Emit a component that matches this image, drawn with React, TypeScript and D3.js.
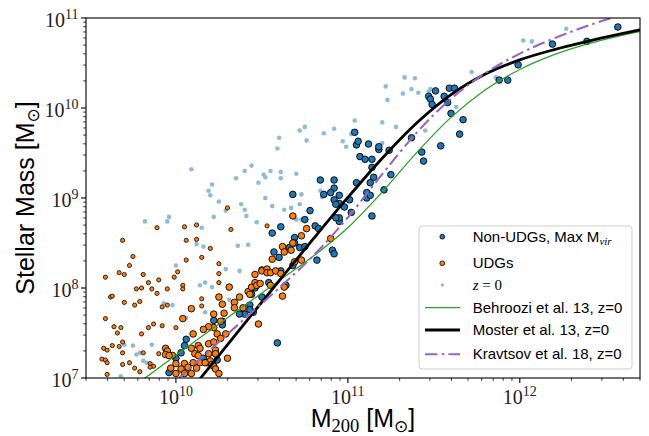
import React from 'react';
import * as d3 from 'd3';

// figure size and axes box (pixels)
const WIDTH = 649;
const HEIGHT = 436;
const PLOT = { left: 86, right: 640, top: 18, bottom: 378 };

// abundance matching relations: log10 M200 grid and log10 M* for each model
const haloGrid = [9.6, 9.8, 10.0, 10.2, 10.4, 10.6, 10.8, 11.0, 11.2, 11.4, 11.6, 11.8, 12.0, 12.2, 12.4, 12.6, 12.7];
const behroozi13 = [6.689, 6.971, 7.252, 7.531, 7.808, 8.081, 8.355, 8.67, 9.067, 9.504, 9.896, 10.203, 10.428, 10.592, 10.714, 10.81, 10.85];
const moster13 = [5.708, 6.183, 6.658, 7.133, 7.607, 8.08, 8.548, 9.006, 9.442, 9.833, 10.149, 10.378, 10.535, 10.649, 10.743, 10.828, 10.869];
const kravtsov18 = [6.275, 6.622, 6.969, 7.315, 7.659, 8.001, 8.36, 8.784, 9.265, 9.726, 10.103, 10.388, 10.604, 10.774, 10.917, 11.042, 11.1];

// [log10 M200, log10 M*]
const nonUdgs: [number, number][] = [
  [10.22, 7.64], [10.27, 7.63], [10.27, 7.59], [10.06, 7.43], [10.05, 7.36], [10.03, 7.28], [10.16, 7.22], [10.18, 7.17],
  [10.24, 7.2], [10.0, 7.22], [9.96, 7.06], [10.45, 7.73], [10.43, 7.81], [10.43, 7.76], [10.4, 7.71], [10.37, 7.71],
  [10.5, 7.9], [10.5, 8.2], [10.61, 8.68], [10.56, 8.61], [10.81, 8.69], [10.83, 8.66], [10.95, 8.74], [10.69, 8.56],
  [10.72, 8.45], [10.66, 8.45], [10.69, 8.5], [10.57, 8.4], [10.6, 8.34], [10.75, 8.46], [10.68, 8.25], [10.82, 8.31],
  [10.91, 8.42], [10.92, 8.38], [10.61, 8.19], [10.54, 8.06], [10.46, 8.0], [10.44, 7.93], [10.64, 8.03], [10.59, 7.39],
  [11.47, 10.13], [11.48, 10.1], [11.49, 10.04], [11.51, 10.19], [11.56, 10.13], [11.58, 10.06], [11.59, 10.22], [11.62, 10.22],
  [11.6, 9.94], [11.67, 9.87], [11.65, 9.71], [11.54, 9.58], [11.43, 9.51], [11.44, 9.41], [12.57, 10.9], [12.39, 10.74],
  [12.19, 10.71], [11.99, 10.48], [11.88, 10.31], [11.93, 10.31], [11.37, 9.67], [11.04, 9.73], [11.05, 9.59], [11.06, 9.63],
  [11.12, 9.6], [11.18, 9.54], [11.18, 9.57], [11.24, 9.53], [11.07, 9.46], [11.1, 9.43], [11.14, 9.43], [11.14, 9.34],
  [11.15, 9.23], [11.13, 9.17], [11.25, 9.26], [10.84, 9.2], [10.92, 9.2], [10.92, 9.11], [11.05, 9.17], [10.68, 9.04],
  [10.86, 9.04], [10.9, 9.06], [10.95, 9.03], [10.92, 8.98], [10.95, 8.94], [10.93, 8.93], [11.01, 8.98], [11.11, 9.06],
  [11.11, 9.0], [11.13, 9.03], [11.21, 9.09], [10.98, 8.9], [10.78, 8.86], [11.02, 8.84], [11.14, 8.8], [10.95, 8.78],
  [10.93, 8.78], [10.75, 8.76],
];

const udgsBig: [number, number][] = [
  [10.09, 7.77], [10.04, 7.66], [10.1, 7.49], [10.25, 7.9], [10.31, 8.01], [10.37, 7.9], [10.27, 7.82], [10.34, 7.84],
  [10.34, 7.78], [10.39, 7.78], [10.42, 7.96], [10.43, 7.93], [10.44, 8.01], [10.46, 8.06], [10.47, 8.03], [10.49, 8.05],
  [10.5, 8.19], [10.46, 8.15], [10.22, 7.71], [10.28, 7.72], [10.26, 7.63], [10.22, 7.56], [10.19, 7.57], [10.16, 7.54],
  [10.29, 7.49], [10.24, 7.49], [10.26, 7.44], [10.13, 7.36], [10.19, 7.38], [10.22, 7.4], [10.23, 7.31], [10.19, 7.27],
  [10.23, 7.27], [10.09, 7.33], [10.11, 7.27], [10.14, 7.33], [10.13, 7.25], [9.94, 7.33], [9.95, 7.3], [9.94, 7.26],
  [9.98, 7.25], [9.96, 7.25], [10.0, 7.16], [10.05, 7.16], [10.1, 7.17], [10.14, 7.17], [10.2, 7.19], [10.21, 7.15],
  [10.17, 7.17], [9.97, 7.11], [10.03, 7.1], [10.07, 7.12], [10.12, 7.11], [10.0, 7.05], [10.05, 7.05], [10.09, 7.05],
  [10.22, 7.13], [10.23, 7.1], [10.25, 7.05], [10.3, 7.22], [10.48, 7.6], [10.76, 8.66], [10.73, 8.58], [10.62, 8.46],
  [10.63, 8.4], [10.67, 8.42], [10.68, 8.5], [10.56, 8.32], [10.69, 8.29], [10.73, 8.31], [10.53, 8.21], [10.53, 8.17],
  [10.55, 8.17], [10.58, 8.19], [10.61, 8.16], [10.55, 8.03], [10.63, 8.01], [10.62, 7.91], [10.9, 8.55], [10.68, 8.8],
];

const udgsSmall: [number, number][] = [
  [9.69, 8.53], [9.75, 8.35], [9.73, 8.25], [9.67, 8.17], [9.7, 8.15], [9.59, 8.12], [9.81, 8.15], [9.84, 8.06],
  [9.9, 8.09], [9.77, 7.99], [9.8, 8.0], [9.86, 7.99], [9.89, 7.94], [9.95, 7.99], [9.62, 7.9], [9.63, 7.91],
  [9.7, 7.84], [9.79, 7.85], [9.76, 7.81], [9.92, 7.79], [9.95, 7.81], [9.59, 7.66], [9.64, 7.57], [9.68, 7.56],
  [9.66, 7.5], [9.84, 7.56], [9.87, 7.6], [9.92, 7.58], [9.8, 7.49], [9.69, 7.4], [9.63, 7.36], [9.67, 7.35],
  [9.58, 7.33], [9.6, 7.31], [9.69, 7.28], [9.57, 7.21], [9.59, 7.2], [9.6, 7.17], [9.73, 7.17], [9.69, 7.15],
  [9.76, 7.11], [9.79, 7.07], [9.6, 7.04], [9.9, 7.27], [9.81, 7.28], [9.85, 7.16], [9.87, 7.13], [9.85, 7.12],
  [9.89, 8.67], [10.06, 8.53], [10.12, 8.54], [10.2, 8.44], [10.15, 8.34], [10.06, 8.31], [10.01, 8.18], [9.99, 8.12],
  [10.04, 8.03], [10.04, 7.99], [10.25, 8.27], [10.25, 8.16], [10.25, 8.06], [10.32, 8.65], [10.15, 7.88], [10.15, 7.8],
  [10.0, 7.56], [10.3, 8.89], [10.05, 8.68], [10.12, 8.7], [10.53, 8.69],
];

const zZero: [number, number][] = [
  [10.15, 8.67], [10.12, 8.49], [10.16, 8.46], [10.36, 8.47], [10.42, 8.48], [10.0, 8.25], [10.29, 8.21], [10.37, 8.19],
  [10.17, 8.06], [10.21, 8.01], [10.14, 8.03], [10.31, 7.87], [9.93, 7.83], [9.98, 7.81], [10.17, 7.73], [10.06, 7.67],
  [9.75, 7.36], [9.7, 7.37], [9.86, 7.37], [9.79, 7.28], [9.77, 7.26], [9.81, 7.19], [9.83, 7.17], [9.68, 7.02],
  [10.6, 9.67], [10.59, 9.55], [10.09, 9.32], [10.44, 9.36], [10.4, 9.3], [10.55, 9.3], [10.61, 9.29], [10.35, 9.22],
  [10.51, 9.26], [10.52, 9.23], [10.61, 9.22], [10.21, 9.15], [10.48, 9.17], [10.19, 9.08], [10.2, 9.03], [10.25, 8.96],
  [10.52, 9.0], [10.56, 8.91], [10.38, 8.93], [10.4, 8.87], [10.29, 8.86], [10.41, 8.8], [10.63, 8.87], [9.96, 8.79],
  [9.95, 8.74], [9.82, 8.74], [10.22, 8.79], [10.47, 8.73], [11.33, 10.34], [11.39, 10.33], [11.22, 10.24], [11.32, 10.16],
  [11.37, 10.21], [11.41, 10.17], [11.23, 10.09], [11.47, 10.18], [11.04, 9.86], [11.2, 9.84], [11.28, 9.79], [10.75, 9.79],
  [10.72, 9.75], [10.92, 9.77], [10.86, 9.72], [10.76, 9.64], [10.97, 9.63], [10.99, 9.57], [11.02, 9.71], [11.03, 9.74],
  [11.2, 9.61], [10.7, 9.27], [10.73, 9.04], [10.72, 8.93], [10.67, 8.89], [10.84, 9.08], [10.85, 9.01], [10.7, 8.76],
  [10.73, 8.76], [11.45, 9.75], [12.27, 10.88], [12.02, 10.75], [12.07, 10.74], [11.72, 10.4], [11.86, 10.34], [11.48, 10.21],
  [11.63, 10.01],
];

const BLUE = '#1f77b4';
const LIGHT_BLUE = '#8fbbd9';
const ORANGE = '#ff7f0e';
const GREEN = '#2ca02c';
const PURPLE = '#9467bd';
const SANS = '"Liberation Sans", Arial, "DejaVu Sans", sans-serif';
const SERIF = '"Liberation Serif", "DejaVu Serif", serif';

const isDecade = (v: number) => Math.abs(Math.log10(v) - Math.round(Math.log10(v))) < 1e-6;

export default function App() {
  const x = d3.scaleLog().domain([3e9, 5e12]).range([PLOT.left, PLOT.right]);
  const y = d3.scaleLog().domain([1e7, 1e11]).range([PLOT.bottom, PLOT.top]);

  const relation = (vals: number[]) =>
    d3.line<number>()
      .x((_, i) => x(10 ** haloGrid[i]))
      .y(v => y(10 ** v))
      .curve(d3.curveMonotoneX)(vals) || '';

  const xTicks = x.ticks();
  const yTicks = y.ticks();

  // legend rows (pixel layout)
  const legX = 419, legY = 226;
  const rows = [236.7, 263.3, 285, 307.7, 330, 354.3];
  const handleX = 442.3, textX = 472.7;

  return (
    <svg width={WIDTH} height={HEIGHT} style={{ position: 'absolute', left: 0, top: 0, background: '#fff' }}>
      <defs>
        <clipPath id="plot-clip">
          <rect x={PLOT.left} y={PLOT.top} width={PLOT.right - PLOT.left} height={PLOT.bottom - PLOT.top} />
        </clipPath>
      </defs>

      <g clipPath="url(#plot-clip)">
        {zZero.map((d, i) => (
          <circle key={'z' + i} cx={x(10 ** d[0])} cy={y(10 ** d[1])} r={2.3} fill={LIGHT_BLUE} />
        ))}
        {nonUdgs.map((d, i) => (
          <circle key={'b' + i} cx={x(10 ** d[0])} cy={y(10 ** d[1])} r={3.3} fill={BLUE} stroke="#000" strokeWidth={0.9} />
        ))}
        {udgsBig.map((d, i) => (
          <circle key={'o' + i} cx={x(10 ** d[0])} cy={y(10 ** d[1])} r={3.3} fill={ORANGE} stroke="#000" strokeWidth={0.9} />
        ))}
        {udgsSmall.map((d, i) => (
          <circle key={'s' + i} cx={x(10 ** d[0])} cy={y(10 ** d[1])} r={2.1} fill={ORANGE} stroke="#000" strokeWidth={0.8} />
        ))}
        <path d={relation(behroozi13)} fill="none" stroke={GREEN} strokeWidth={1.3} />
        <path d={relation(moster13)} fill="none" stroke="#000" strokeWidth={2.8} />
        <path d={relation(kravtsov18)} fill="none" stroke={PURPLE} strokeWidth={2.1} strokeDasharray="12.5,4.2,2.5,4.2" />
      </g>

      {/* spines */}
      <rect x={PLOT.left} y={PLOT.top} width={PLOT.right - PLOT.left} height={PLOT.bottom - PLOT.top}
        fill="none" stroke="#000" strokeWidth={1.1} />

      {/* x ticks */}
      {xTicks.map((t, i) => {
        const major = isDecade(t);
        const px = x(t);
        return (
          <g key={'xt' + i}>
            <line x1={px} x2={px} y1={PLOT.bottom} y2={PLOT.bottom + (major ? 5 : 2.8)} stroke="#000" strokeWidth={major ? 1.1 : 0.8} />
            {major && (
              <text x={px} y={404} textAnchor="middle" fontFamily={SERIF} fontSize={20} fill="#222">
                10<tspan fontSize={14} dy={-8.5}>{Math.round(Math.log10(t))}</tspan>
              </text>
            )}
          </g>
        );
      })}

      {/* y ticks */}
      {yTicks.map((t, i) => {
        const major = isDecade(t);
        const py = y(t);
        return (
          <g key={'yt' + i}>
            <line x1={PLOT.left - (major ? 5 : 2.8)} x2={PLOT.left} y1={py} y2={py} stroke="#000" strokeWidth={major ? 1.1 : 0.8} />
            {major && (
              <text x={78.5} y={py + 8.5} textAnchor="end" fontFamily={SERIF} fontSize={20} fill="#222">
                10<tspan fontSize={14} dy={-7.5}>{Math.round(Math.log10(t))}</tspan>
              </text>
            )}
          </g>
        );
      })}

      {/* axis labels */}
      <text x={(PLOT.left + PLOT.right) / 2} y={427} textAnchor="middle" fontFamily={SANS} fontSize={25} fill="#000">
        M<tspan fontFamily={SERIF} fontSize={18.5} dy={5}>200</tspan>
        <tspan dy={-5}> [M</tspan>
        <tspan fontFamily='"DejaVu Sans", sans-serif' fontSize={17} dy={5}>⊙</tspan>
        <tspan dy={-5}>]</tspan>
      </text>
      <text transform={`translate(33.5,${(PLOT.top + PLOT.bottom) / 2}) rotate(-90)`} textAnchor="middle"
        fontFamily={SANS} fontSize={25} fill="#000">
        Stellar Mass [M<tspan fontFamily='"DejaVu Sans", sans-serif' fontSize={17} dy={5}>⊙</tspan>
        <tspan dy={-5}>]</tspan>
      </text>

      {/* legend */}
      <rect x={legX} y={legY} width={213} height={143} rx={3} fill="#fff" fillOpacity={0.8} stroke="#cccccc" strokeWidth={1} />
      <circle cx={handleX} cy={rows[0]} r={2.4} fill={BLUE} stroke="#000" strokeWidth={0.8} />
      <circle cx={handleX} cy={rows[1]} r={2.4} fill={ORANGE} stroke="#000" strokeWidth={0.8} />
      <circle cx={handleX} cy={rows[2]} r={1.7} fill={LIGHT_BLUE} />
      <line x1={425} x2={460} y1={rows[3]} y2={rows[3]} stroke={GREEN} strokeWidth={1.3} />
      <line x1={425} x2={460} y1={rows[4]} y2={rows[4]} stroke="#000" strokeWidth={2.8} />
      <line x1={425} x2={460} y1={rows[5]} y2={rows[5]} stroke={PURPLE} strokeWidth={2.1} strokeDasharray="12.5,4.2,2.5,4.2" />
      <g fontFamily={SANS} fontSize={15} fill="#000">
        <text x={textX} y={rows[0] + 5}>
          Non-UDGs, Max M<tspan fontFamily={SERIF} fontStyle="italic" fontSize={11} dy={3}>vir</tspan>
        </text>
        <text x={textX} y={rows[1] + 5}>UDGs</text>
        <text x={textX} y={rows[2] + 5} fontFamily={SERIF}>
          <tspan fontStyle="italic">z</tspan> = 0
        </text>
        <text x={textX} y={rows[3] + 5}>Behroozi et al. 13, z=0</text>
        <text x={textX} y={rows[4] + 5}>Moster et al. 13, z=0</text>
        <text x={textX} y={rows[5] + 5}>Kravtsov et al. 18, z=0</text>
      </g>
    </svg>
  );
}
